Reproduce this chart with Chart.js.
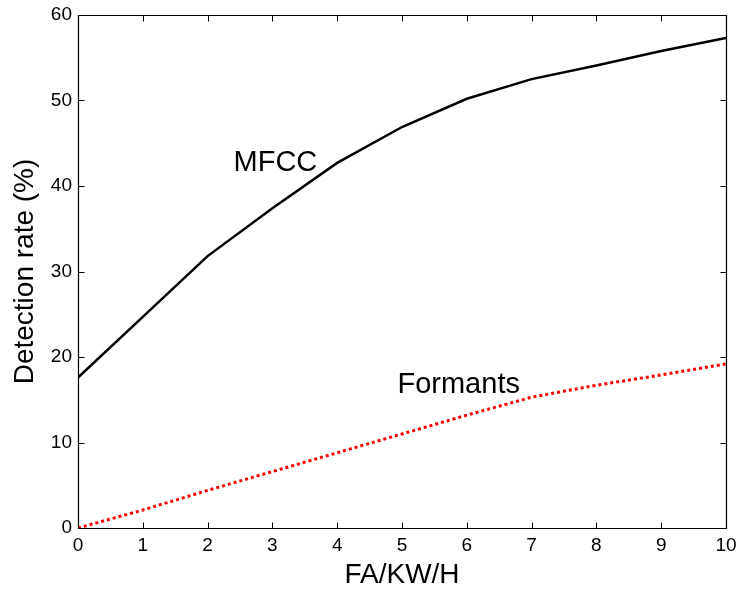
<!DOCTYPE html>
<html>
<head>
<meta charset="utf-8">
<script src="https://cdn.jsdelivr.net/npm/chart.js@4"></script>
<style>
  html, body { margin: 0; padding: 0; background: #fff; }
  #wrap { width: 741px; height: 591px; }
</style>
</head>
<body>
<div id="wrap"><canvas id="c" width="741" height="591"></canvas></div>
<script>
const xValues = [0, 1, 2, 3, 4, 5, 6, 7, 8, 9, 10];
const mfccValues = [17.6, 24.7, 31.8, 37.4, 42.7, 46.9, 50.2, 52.5, 54.1, 55.8, 57.3];
const formantValues = [0, 2.1, 4.4, 6.6, 8.8, 11.0, 13.2, 15.3, 16.7, 17.9, 19.2];
const xTicks = [0, 1, 2, 3, 4, 5, 6, 7, 8, 9, 10];
const yTicks = [0, 10, 20, 30, 40, 50, 60];
const seriesLabels = ['MFCC', 'Formants'];
const xTitle = 'FA/KW/H';
const yTitle = 'Detection rate (%)';

const FONT = '"Liberation Sans", Arial, Helvetica, sans-serif';

const boxPlugin = {
  id: 'box',
  afterDatasetsDraw(chart) {
    const {ctx, chartArea: a, scales: {x, y}} = chart;
    ctx.save();
    ctx.strokeStyle = '#000';
    ctx.lineWidth = 1.2;
    const L = Math.round(a.left) + 0.5, R = Math.round(a.right) + 0.5;
    const T = Math.round(a.top) + 0.5, B = Math.round(a.bottom) + 0.5;
    ctx.beginPath();
    ctx.rect(L, T, R - L, B - T);
    ctx.stroke();
    ctx.lineWidth = 1;
    const tl = 6;
    ctx.beginPath();
    xTicks.forEach(v => {
      const px = Math.round(x.getPixelForValue(v)) + 0.5;
      ctx.moveTo(px, B); ctx.lineTo(px, B - tl);
      ctx.moveTo(px, T); ctx.lineTo(px, T + tl);
    });
    yTicks.forEach(v => {
      const py = Math.round(y.getPixelForValue(v)) + 0.5;
      ctx.moveTo(L, py); ctx.lineTo(L + tl, py);
      ctx.moveTo(R, py); ctx.lineTo(R - tl, py);
    });
    ctx.stroke();
    // series annotations
    ctx.fillStyle = '#000';
    ctx.font = '29px ' + FONT;
    ctx.textBaseline = 'alphabetic';
    ctx.textAlign = 'left';
    ctx.fillText(seriesLabels[0], x.getPixelForValue(2.4), y.getPixelForValue(41.7));
    ctx.fillText(seriesLabels[1], x.getPixelForValue(4.93), y.getPixelForValue(15.8));
    ctx.restore();
  }
};

new Chart(document.getElementById('c'), {
  type: 'line',
  data: {
    labels: xValues,
    datasets: [
      {
        label: seriesLabels[0],
        data: xValues.map((v, i) => ({x: v, y: mfccValues[i]})),
        borderColor: '#000',
        borderWidth: 2.5,
        pointRadius: 0,
        fill: false,
        tension: 0
      },
      {
        label: seriesLabels[1],
        data: xValues.map((v, i) => ({x: v, y: formantValues[i]})),
        borderColor: '#ff0000',
        borderWidth: 3,
        borderDash: [3, 3],
        borderCapStyle: 'butt',
        pointRadius: 0,
        fill: false,
        tension: 0
      }
    ]
  },
  options: {
    responsive: false,
    animation: false,
    devicePixelRatio: 1,
    layout: { padding: { left: 0, top: 15, right: 15, bottom: 0 } },
    plugins: {
      legend: { display: false },
      tooltip: { enabled: false }
    },
    scales: {
      x: {
        type: 'linear',
        min: 0, max: 10,
        afterBuildTicks(scale) { scale.ticks = xTicks.map(v => ({value: v})); },
        afterFit(scale) { scale.height = 63; scale.paddingLeft = 0; scale.paddingRight = 0; },
        grid: { display: false, drawTicks: false },
        border: { display: false },
        ticks: {
          color: '#000',
          font: { family: FONT, size: 19 },
          padding: 6,
          maxRotation: 0,
          autoSkip: false
        },
        title: {
          display: true,
          text: xTitle,
          color: '#000',
          font: { family: FONT, size: 28, lineHeight: 1 },
          padding: { top: 0, bottom: 2 }
        }
      },
      y: {
        type: 'linear',
        min: 0, max: 60,
        afterBuildTicks(scale) { scale.ticks = yTicks.map(v => ({value: v})); },
        afterFit(scale) { scale.width = 78; scale.paddingTop = 0; scale.paddingBottom = 0; },
        grid: { display: false, drawTicks: false },
        border: { display: false },
        ticks: {
          color: '#000',
          font: { family: FONT, size: 19 },
          padding: 6,
          autoSkip: false
        },
        title: {
          display: true,
          text: yTitle,
          color: '#000',
          font: { family: FONT, size: 28, lineHeight: 1 },
          padding: { top: 11, bottom: 0 }
        }
      }
    }
  },
  plugins: [boxPlugin]
});
</script>
</body>
</html>
